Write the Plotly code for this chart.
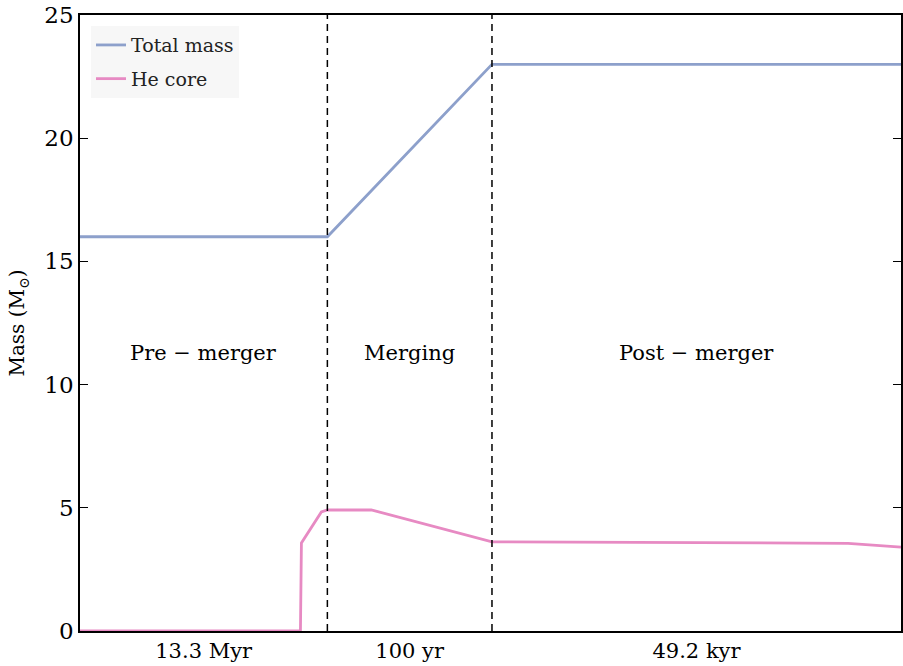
import plotly.graph_objects as go

# x in normalised "phase" units (0..1 across the plotted time segments)
total_x = [0.0, 0.3013, 0.5018, 1.0]
total_y = [16.0, 16.0, 23.0, 23.0]

core_x = [0.0, 0.2685, 0.2697, 0.294, 0.3013, 0.3548, 0.5018, 0.9356, 1.0]
core_y = [0.0, 0.0, 3.57, 4.83, 4.91, 4.91, 3.62, 3.56, 3.40]

boundaries = [0.3013, 0.5018]
phase_names = ["Pre \u2212 merger", "Merging", "Post \u2212 merger"]
phase_durations = ["13.3 Myr", "100 yr", "49.2 kyr"]
phase_label_y = 11.3

edges = [0.0] + boundaries + [1.0]
mids = [(edges[i] + edges[i + 1]) / 2 for i in range(3)]

FONT = "DejaVu Serif"
BLUE = "#8da0cb"
PINK = "#e78ac3"

fig = go.Figure()
fig.add_trace(go.Scatter(x=total_x, y=total_y, mode="lines", name="Total mass",
                         legendgroup="a",
                         line=dict(color=BLUE, width=2.8)))
fig.add_trace(go.Scatter(x=core_x, y=core_y, mode="lines", name="He core",
                         legendgroup="b",
                         line=dict(color=PINK, width=2.8)))

for b in boundaries:
    fig.add_shape(type="line", x0=b, x1=b, y0=0, y1=1, xref="x", yref="paper",
                  line=dict(color="black", width=1.5, dash="7px,5px"))

for m, name in zip(mids, phase_names):
    fig.add_annotation(x=m, y=phase_label_y, text=name, showarrow=False,
                       font=dict(family=FONT, size=21, color="black"))

fig.update_layout(
    width=903, height=666,
    margin=dict(l=80, r=0, t=15, b=35),
    paper_bgcolor="white", plot_bgcolor="white",
    font=dict(family=FONT, color="black"),
    showlegend=True,
    legend=dict(x=0.0134, y=0.982, xanchor="left", yanchor="top",
                bgcolor="#f7f7f7", borderwidth=0,
                font=dict(family=FONT, size=19, color="#222222"),
                traceorder="grouped", tracegroupgap=6),
)
fig.update_xaxes(range=[0, 1], showgrid=False, zeroline=False,
                 showline=True, linecolor="black", linewidth=1.5, mirror=True,
                 ticks="", tickvals=mids, ticktext=phase_durations,
                 tickfont=dict(family=FONT, size=21, color="black"))
fig.update_yaxes(range=[0, 25], showgrid=False, zeroline=False,
                 showline=True, linecolor="black", linewidth=1.5, mirror="ticks",
                 ticks="inside", ticklen=8, tickwidth=1, tickcolor="black",
                 tickvals=[0, 5, 10, 15, 20, 25],
                 tickfont=dict(family=FONT, size=23, color="black"),
                 title=dict(text="Mass (M<sub>\u2299</sub>)", standoff=14,
                            font=dict(family=FONT, size=20, color="black")))

fig.write_html("out.html")
